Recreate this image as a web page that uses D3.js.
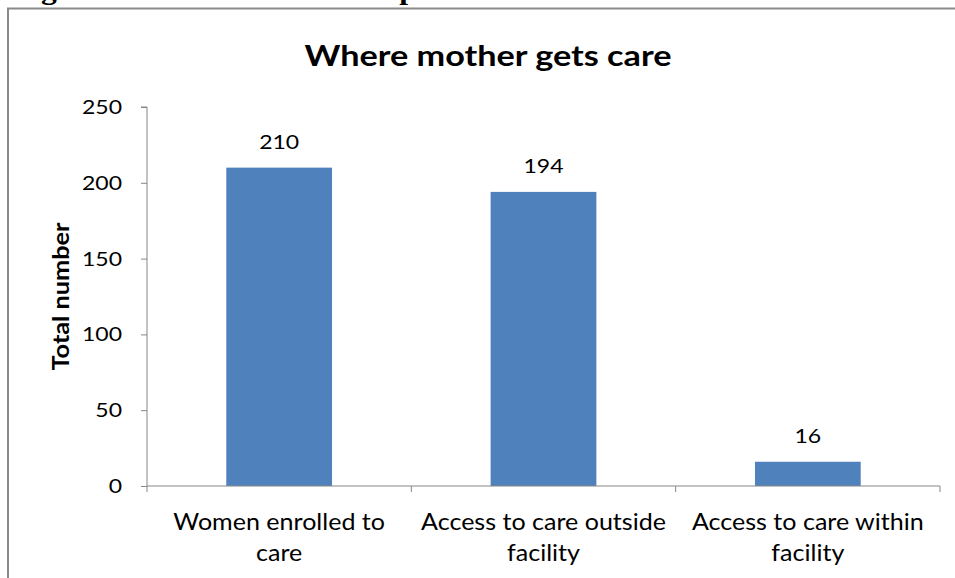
<!DOCTYPE html>
<html>
<head>
<meta charset="utf-8">
<script src="https://cdn.jsdelivr.net/npm/d3@7"></script>
<style>
  html, body { margin: 0; padding: 0; background: #fff; }
  svg { display: block; }
</style>
</head>
<body>
<svg id="chart" width="955" height="578"></svg>
<script>
// Where mother gets care: counts per category
const categories = [
  ["Women enrolled to", "care"],
  ["Access to care outside", "facility"],
  ["Access to care within", "facility"]
];
const values = [210, 194, 16];
const yTicks = [0, 50, 100, 150, 200, 250];

const svg = d3.select("#chart");
const W = 955, H = 578;
const margin = { left: 147, right: 15, top: 107, bottom: 92 };
const font = "Lato, 'Open Sans', sans-serif";
const axisColor = "#868686";

// Caption line of the surrounding document, running off the top edge
svg.append("text")
  .attr("transform", "translate(13,-1.5) scale(1.17,1)")
  .attr("font-family", "'Liberation Serif', 'Times New Roman', serif")
  .attr("font-weight", "bold")
  .attr("font-size", 27)
  .attr("fill", "#000")
  .text("Figure 1: Mother's access to postnatal care");

// Chart frame (left and top edges visible)
svg.append("path")
  .attr("d", `M8,${H} L8,8.5 L${W},8.5`)
  .attr("fill", "none")
  .attr("stroke", "#8a8a8a")
  .attr("stroke-width", 2);

const x = d3.scaleBand()
  .domain(d3.range(categories.length))
  .range([margin.left, W - margin.right])
  .paddingInner(0.6)
  .paddingOuter(0.3);

const xOuter = d3.scaleBand()
  .domain(d3.range(categories.length))
  .range([margin.left, W - margin.right]);

const y = d3.scaleLinear()
  .domain([0, 250])
  .range([H - margin.bottom, margin.top]);

// Title (text is drawn slightly widened horizontally)
svg.append("text")
  .attr("transform", "translate(488,66) scale(1.18,1)")
  .attr("text-anchor", "middle")
  .attr("font-family", font)
  .attr("font-weight", "bold")
  .attr("font-size", 29)
  .attr("fill", "#000")
  .text("Where mother gets care");

// Y axis
const yAxis = svg.append("g")
  .attr("transform", `translate(${margin.left},0)`)
  .call(d3.axisLeft(y).tickValues(yTicks).tickSize(6).tickFormat(d3.format("d")));
yAxis.select(".domain").attr("stroke", axisColor).attr("d", `M-6,${y(250)}H0V${y(0)}`);
yAxis.selectAll(".tick line").attr("stroke", axisColor);
yAxis.selectAll(".tick text")
  .attr("x", 0)
  .attr("transform", "translate(-25,0) scale(1.15,1)")
  .attr("font-family", font)
  .attr("font-size", 20)
  .attr("fill", "#000");

// Y axis title
svg.append("text")
  .attr("transform", `translate(69,${(y(0) + y(250)) / 2}) rotate(-90) scale(1.15,1)`)
  .attr("text-anchor", "middle")
  .attr("font-family", font)
  .attr("font-weight", "bold")
  .attr("font-size", 22)
  .attr("fill", "#000")
  .text("Total number");

// Bars
svg.append("g").selectAll("rect")
  .data(values)
  .join("rect")
  .attr("x", (d, i) => x(i))
  .attr("width", x.bandwidth())
  .attr("y", d => y(d))
  .attr("height", d => y(0) - y(d))
  .attr("fill", "#4F81BD");

// Value labels
svg.append("g").selectAll("text")
  .data(values)
  .join("text")
  .attr("transform", (d, i) => `translate(${x(i) + x.bandwidth() / 2},${y(d) - 19}) scale(1.15,1)`)
  .attr("text-anchor", "middle")
  .attr("font-family", font)
  .attr("font-size", 20)
  .attr("fill", "#000")
  .text(d => d);

// X axis: baseline with category boundary ticks
const xg = svg.append("g");
xg.append("line")
  .attr("x1", margin.left).attr("x2", W - margin.right)
  .attr("y1", y(0)).attr("y2", y(0))
  .attr("stroke", axisColor);
const bounds = d3.range(categories.length + 1).map(i =>
  i < categories.length ? xOuter(i) : xOuter(i - 1) + xOuter.bandwidth());
xg.selectAll("line.tick")
  .data(bounds)
  .join("line")
  .attr("class", "tick")
  .attr("x1", d => d).attr("x2", d => d)
  .attr("y1", y(0)).attr("y2", y(0) + 6)
  .attr("stroke", axisColor);

// Category labels (two lines)
const lbl = svg.append("g").selectAll("text")
  .data(categories)
  .join("text")
  .attr("transform", (d, i) => `translate(${xOuter(i) + xOuter.bandwidth() / 2},530) scale(1.09,1)`)
  .attr("text-anchor", "middle")
  .attr("font-family", font)
  .attr("font-size", 23)
  .attr("fill", "#000");
lbl.selectAll("tspan")
  .data(d => d)
  .join("tspan")
  .attr("x", 0)
  .attr("dy", (d, j) => j === 0 ? 0 : 31)
  .text(d => d);
</script>
</body>
</html>
